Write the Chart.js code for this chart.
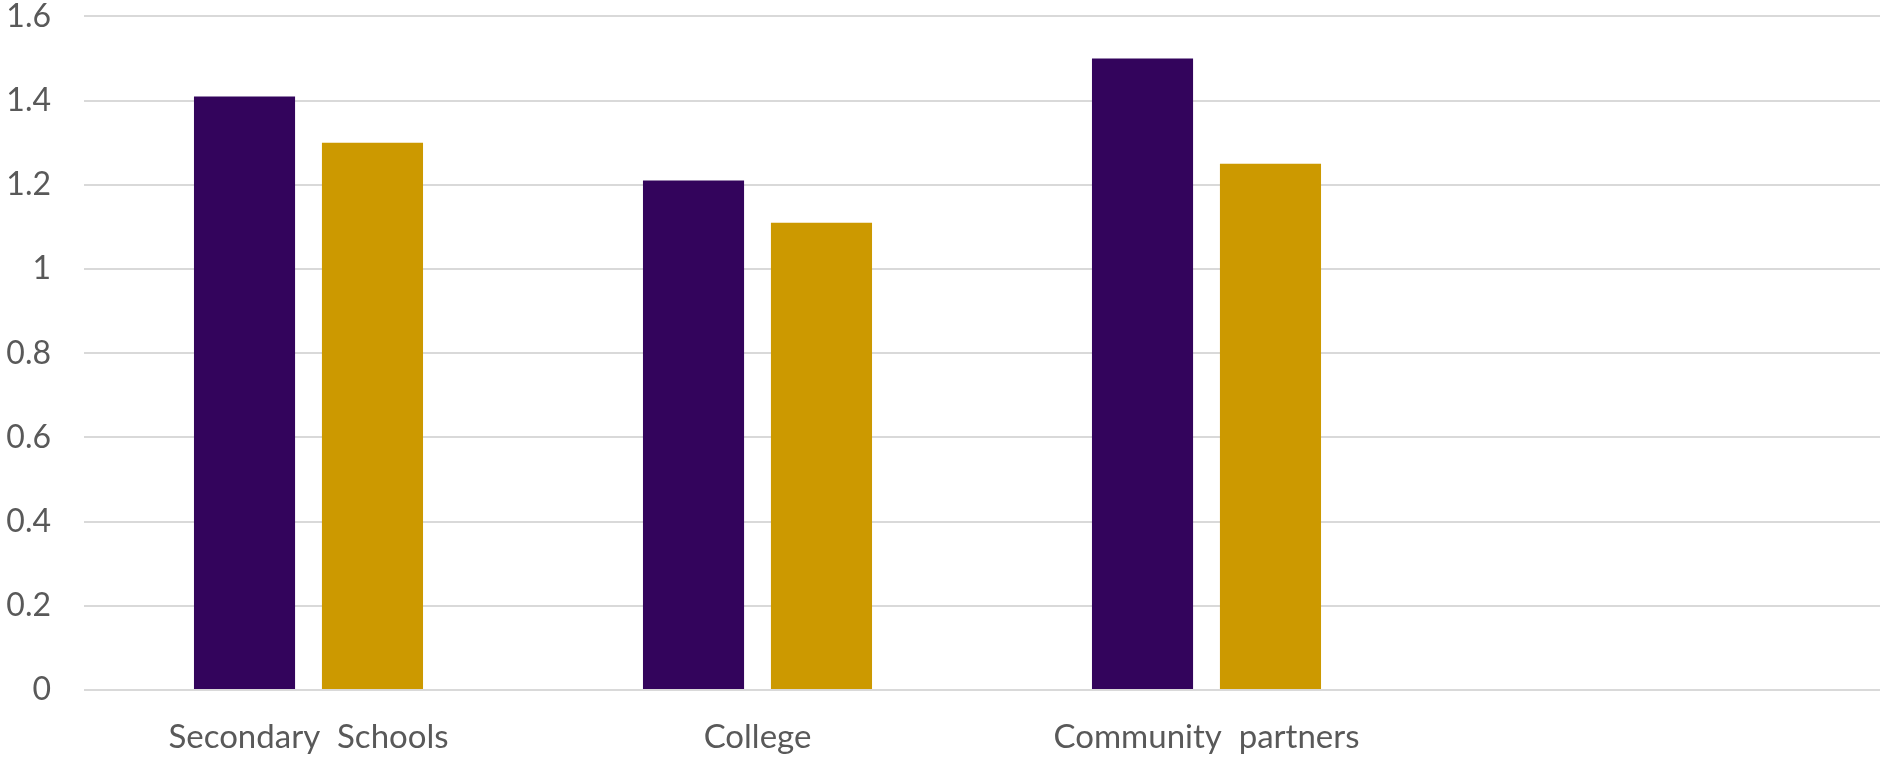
<!DOCTYPE html>
<html>
<head>
<meta charset="utf-8">
<script src="https://cdn.jsdelivr.net/npm/chart.js@4"></script>
<style>
    body { margin: 0; background: #ffffff; }
    #wrap { width: 1880px; height: 759px; }
</style>
</head>
<body>
<div id="wrap"><canvas id="myChart" width="1880" height="759"></canvas></div>
<script>
const categories = ['Secondary  Schools', 'College', 'Community  partners', ''];
const seriesOne = [1.41, 1.21, 1.5, null];
const seriesTwo = [1.3, 1.11, 1.25, null];
const yTicks = [0, 0.2, 0.4, 0.6, 0.8, 1, 1.2, 1.4, 1.6];

document.addEventListener('DOMContentLoaded', function () {
    const ctx = document.getElementById('myChart');
    const fontFamily = 'Lato, "Open Sans", sans-serif';
    new Chart(ctx, {
        type: 'bar',
        data: {
            labels: categories,
            datasets: [
                { label: 'Series 1', data: seriesOne, backgroundColor: '#33045C', barPercentage: 0.79, categoryPercentage: 0.57 },
                { label: 'Series 2', data: seriesTwo, backgroundColor: '#CC9900', barPercentage: 0.79, categoryPercentage: 0.57 }
            ]
        },
        options: {
            responsive: false,
            animation: false,
            plugins: {
                legend: { display: false },
                tooltip: { enabled: false }
            },
            scales: {
                x: {
                    grid: { display: false, drawTicks: false },
                    border: { display: false },
                    ticks: {
                        color: '#595959',
                        padding: 28,
                        font: { family: fontFamily, size: 33 }
                    },
                    afterFit: function (scale) { scale.height = 69; }
                },
                y: {
                    min: 0,
                    max: 1.6,
                    afterBuildTicks: function (scale) {
                        scale.ticks = yTicks.map(v => ({ value: v }));
                    },
                    grid: { color: '#D9D9D9', lineWidth: 2, drawTicks: false },
                    border: { display: false },
                    ticks: {
                        color: '#595959',
                        padding: 33,
                        font: { family: fontFamily, size: 32, lineHeight: 1 },
                        callback: function (value) { return String(+Number(value).toFixed(1)); }
                    },
                    afterFit: function (scale) {
                        scale.width = 84;
                        // tick padding gets added above the top line otherwise
                        scale.paddingTop = 16.4;
                        scale.paddingBottom = 0;
                    }
                }
            }
        }
    });
});
</script>
</body>
</html>
